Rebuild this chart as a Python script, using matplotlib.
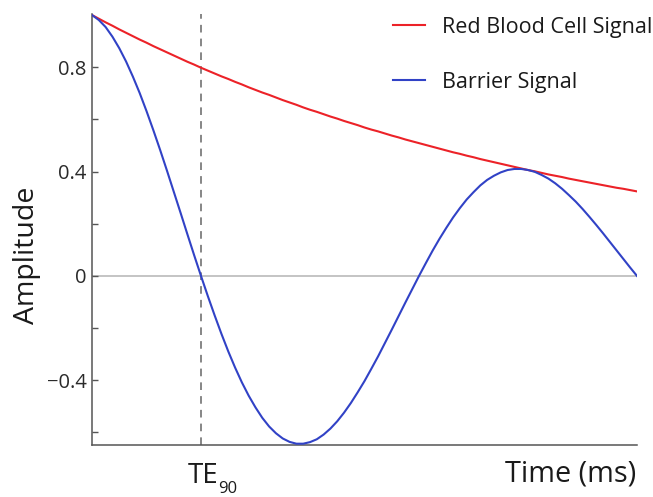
import matplotlib
matplotlib.use("Agg")
import matplotlib.pyplot as plt
from matplotlib.transforms import offset_copy

# Time samples (normalised echo time, 0 to end of acquisition window)
time = [0.0000, 0.0125, 0.0250, 0.0375, 0.0500, 0.0625, 0.0750, 0.0875, 0.1000, 0.1125,
        0.1250, 0.1375, 0.1500, 0.1625, 0.1750, 0.1875, 0.2000, 0.2125, 0.2250, 0.2375,
        0.2500, 0.2625, 0.2750, 0.2875, 0.3000, 0.3125, 0.3250, 0.3375, 0.3500, 0.3625,
        0.3750, 0.3875, 0.4000, 0.4125, 0.4250, 0.4375, 0.4500, 0.4625, 0.4750, 0.4875,
        0.5000, 0.5125, 0.5250, 0.5375, 0.5500, 0.5625, 0.5750, 0.5875, 0.6000, 0.6125,
        0.6250, 0.6375, 0.6500, 0.6625, 0.6750, 0.6875, 0.7000, 0.7125, 0.7250, 0.7375,
        0.7500, 0.7625, 0.7750, 0.7875, 0.8000, 0.8125, 0.8250, 0.8375, 0.8500, 0.8625,
        0.8750, 0.8875, 0.9000, 0.9125, 0.9250, 0.9375, 0.9500, 0.9625, 0.9750, 0.9875,
        1.0000]

# Red blood cell signal amplitude
rbc_signal = [1.000, 0.986, 0.972, 0.959, 0.945, 0.932, 0.919, 0.906, 0.894, 0.881,
              0.869, 0.857, 0.845, 0.833, 0.821, 0.810, 0.798, 0.787, 0.776, 0.765,
              0.755, 0.744, 0.734, 0.723, 0.713, 0.703, 0.694, 0.684, 0.674, 0.665,
              0.656, 0.646, 0.637, 0.629, 0.620, 0.611, 0.603, 0.594, 0.586, 0.578,
              0.569, 0.561, 0.554, 0.546, 0.538, 0.531, 0.523, 0.516, 0.509, 0.502,
              0.495, 0.488, 0.481, 0.474, 0.468, 0.461, 0.455, 0.448, 0.442, 0.436,
              0.430, 0.424, 0.418, 0.412, 0.406, 0.401, 0.395, 0.389, 0.384, 0.379,
              0.373, 0.368, 0.363, 0.358, 0.353, 0.348, 0.343, 0.338, 0.334, 0.329,
              0.324]

# Barrier signal amplitude
barrier_signal = [1.000, 0.981, 0.954, 0.917, 0.873, 0.822, 0.764, 0.701, 0.632, 0.559,
                  0.483, 0.404, 0.323, 0.242, 0.160, 0.079, 0.000, -0.077, -0.151, -0.222,
                  -0.289, -0.351, -0.408, -0.459, -0.504, -0.544, -0.577, -0.603, -0.623, -0.636,
                  -0.643, -0.643, -0.637, -0.626, -0.608, -0.585, -0.557, -0.524, -0.487, -0.446,
                  -0.403, -0.356, -0.308, -0.257, -0.206, -0.154, -0.102, -0.051, 0.000, 0.049,
                  0.097, 0.142, 0.184, 0.224, 0.260, 0.293, 0.321, 0.347, 0.368, 0.384,
                  0.397, 0.406, 0.410, 0.410, 0.406, 0.399, 0.387, 0.373, 0.355, 0.334,
                  0.310, 0.285, 0.257, 0.227, 0.196, 0.164, 0.131, 0.098, 0.065, 0.032,
                  0.000]

te90 = 0.200
series_labels = ["Red Blood Cell Signal", "Barrier Signal"]
major_yticks = [-0.4, 0.0, 0.4, 0.8]
major_ylabels = ["\u22120.4", "0", "0.4", "0.8"]
minor_yticks = [-0.6, -0.2, 0.2, 0.6]

plt.rcParams["font.family"] = ["Open Sans", "DejaVu Sans"]
text_color = "#1a1a1a"
axis_color = "#555555"

fig = plt.figure(figsize=(6.53, 4.97), dpi=100)
ax = fig.add_axes([92 / 653, 1 - 445 / 497, 545 / 653, 431 / 497])

ax.axhline(0, color="#b4b4b4", lw=1.1, zorder=1)
ax.axvline(te90, color="#666666", lw=1.1, ls=(0, (5, 4)), zorder=1)

ax.plot(time, rbc_signal, color="#ec2228", lw=1.5, label=series_labels[0], zorder=3)
ax.plot(time, barrier_signal, color="#3142c6", lw=1.5, label=series_labels[1], zorder=3)

ax.set_xlim(0, 1.0)
ax.set_ylim(-0.648, 1.004)

for side in ("top", "right"):
    ax.spines[side].set_visible(False)
for side in ("left", "bottom"):
    ax.spines[side].set_color(axis_color)
    ax.spines[side].set_linewidth(1.1)

ax.set_yticks(major_yticks)
ax.set_yticklabels(major_ylabels)
ax.set_yticks(minor_yticks, minor=True)
ax.tick_params(axis="y", which="both", direction="in", length=4.5, width=1,
               color=axis_color, labelsize=14.5, pad=4, labelcolor="#2a2a2a")
ax.set_xticks([])

# x-axis annotations: echo time marker and axis title
xbase = ax.get_xaxis_transform()
te_tr = offset_copy(xbase, fig=fig, x=2.5, y=-38, units="dots")
ax.text(te90, 0, "TE", transform=te_tr, ha="center", va="baseline",
        fontsize=20, color=text_color)
sub_tr = offset_copy(xbase, fig=fig, x=17.5, y=-48, units="dots")
ax.text(te90, 0, "90", transform=sub_tr, ha="left", va="baseline",
        fontsize=12, color=text_color)
time_tr = offset_copy(ax.transAxes, fig=fig, x=-1, y=-37, units="dots")
ax.text(1.0, 0, "Time (ms)", transform=time_tr, ha="right", va="baseline",
        fontsize=20.8, color=text_color)

fig.text(34 / 653, 1 - 255.5 / 497, "Amplitude", rotation=90, rotation_mode="anchor",
         ha="center", va="baseline", fontsize=20.5, color=text_color)

leg = ax.legend(loc="upper left", bbox_to_anchor=(393 / 653, 1 - 17 / 497),
                bbox_transform=fig.transFigure, frameon=False, fontsize=15.5,
                borderpad=0, borderaxespad=0, handlelength=1.49,
                handletextpad=0.79, labelspacing=1.56)
for t in leg.get_texts():
    t.set_color(text_color)

fig.savefig("out.png", dpi=100)
